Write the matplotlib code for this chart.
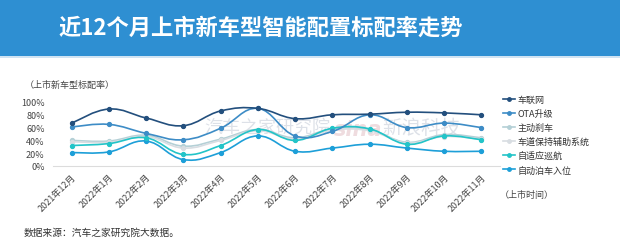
import numpy as np
import matplotlib
matplotlib.use('Agg')
import matplotlib.pyplot as plt
from matplotlib.path import Path
from matplotlib.patches import PathPatch, Rectangle
from matplotlib.lines import Line2D
from matplotlib.ticker import FuncFormatter

plt.rcParams['font.family'] = ['Noto Sans CJK SC', 'DejaVu Sans']

# 上市时间
months = ['2021年12月', '2022年1月', '2022年2月', '2022年3月', '2022年4月', '2022年5月',
          '2022年6月', '2022年7月', '2022年8月', '2022年9月', '2022年10月', '2022年11月']

# 各智能配置标配率(%)
che_lian_wang = [67, 89, 75, 63, 86, 90, 74, 80, 81, 84, 83, 80]
ota = [61, 65, 51, 41, 59, 90, 47, 54, 80, 60, 67, 60]
zhu_dong_sha_che = [40, 39, 48, 31, 42, 57, 44, 58, 57, 37, 49, 44]
che_dao_bao_chi = [38, 37, 46, 28, 40, 55, 42, 56, 55, 36, 46, 42]
zi_shi_ying_xun_hang = [32, 35, 44, 18, 32, 57, 40, 59, 58, 34, 47, 41]
zi_dong_bo_che = [21, 22, 39, 10, 21, 47, 23, 28, 34, 28, 23, 23]

series = [
    ('车联网', che_lian_wang, '#234f7d'),
    ('OTA升级', ota, '#3d8cc6'),
    ('主动刹车', zhu_dong_sha_che, '#b4d0d6'),
    ('车道保持辅助系统', che_dao_bao_chi, '#d8dde2'),
    ('自适应巡航', zi_shi_ying_xun_hang, '#22c4c8'),
    ('自动泊车入位', zi_dong_bo_che, '#1d9fd8'),
]


def smooth_path(xs, ys, t=0.2):
    # 用三次贝塞尔把折线画成平滑曲线
    pts = np.column_stack([xs, ys]).astype(float)
    n = len(pts)
    verts = [pts[0]]
    codes = [Path.MOVETO]
    for i in range(n - 1):
        p0 = pts[max(i - 1, 0)]
        p1 = pts[i]
        p2 = pts[i + 1]
        p3 = pts[min(i + 2, n - 1)]
        c1 = p1 + (p2 - p0) * t
        c2 = p2 - (p3 - p1) * t
        verts += [c1, c2, p2]
        codes += [Path.CURVE4] * 3
    return Path(verts, codes)


fig = plt.figure(figsize=(6.2, 2.53), dpi=100)

# 顶部标题栏
fig.patches.append(Rectangle((0, 1 - 57 / 253), 1, 57 / 253, transform=fig.transFigure,
                             facecolor='#2e8fd2', edgecolor='none', zorder=0))
fig.patches.append(Rectangle((0, 1 - 59 / 253), 1, 2 / 253, transform=fig.transFigure,
                             facecolor='#cfe3f3', edgecolor='none', zorder=0))
fig.text(261 / 620, 1 - 28 / 253, '近12个月上市新车型智能配置标配率走势', color='white',
         fontsize=16, fontweight='bold', ha='center', va='center')

ax = fig.add_axes([53 / 620, 86 / 253, 447 / 620, 64 / 253])
x = np.arange(len(months))

# 水印
ax.text(3.55, 62, '汽车之家研究院', fontsize=13, color='#dde1e8', ha='left', va='center',
        zorder=1)
ax.text(7.05, 58, 'sina', fontsize=15, color='#efdcdf', fontweight='bold', style='italic',
        ha='left', va='center', zorder=1, family=['DejaVu Sans'])
ax.text(8.35, 60, '新浪科技', fontsize=14, color='#dde1e8', ha='left', va='center',
        zorder=1)

handles = []
for i, (name, vals, color) in enumerate(series):
    zo = 3 + (len(series) - i) * 0.1
    if name in ('主动刹车', '车道保持辅助系统'):
        zo = 2.5
    ax.add_patch(PathPatch(smooth_path(x, vals), facecolor='none', edgecolor=color,
                           linewidth=1.2, zorder=zo))
    ax.plot(x, vals, linestyle='none', marker='o', markersize=2.8, color=color, zorder=zo + 0.05)
    handles.append(Line2D([], [], color=color, linewidth=1.2, marker='o', markersize=2.5,
                          label=name))

ax.set_xlim(-0.5, len(months) - 0.5)
ax.set_ylim(0, 100)
ax.set_yticks([0, 20, 40, 60, 80, 100])
ax.yaxis.set_major_formatter(FuncFormatter(lambda v, p: f'{v:.0f}%'))
ax.set_xticks(x)
ax.set_xticklabels(months, rotation=45, ha='right', rotation_mode='anchor')
ax.tick_params(axis='both', length=0, labelsize=6.5, colors='#444444')
ax.tick_params(axis='x', pad=4)
ax.tick_params(axis='y', pad=6)
for side in ('top', 'right', 'left'):
    ax.spines[side].set_visible(False)
ax.spines['bottom'].set_color('#dcdcdc')
ax.spines['bottom'].set_linewidth(0.8)
ax.patch.set_alpha(0)

fig.text(25 / 620, 1 - 85 / 253, '（上市新车型标配率）', fontsize=6.5, color='#444444',
         ha='left', va='center')
fig.text(500 / 620, 1 - 195 / 253, '（上市时间）', fontsize=6.5, color='#444444',
         ha='left', va='center')
fig.text(24 / 620, 1 - 233 / 253, '数据来源：汽车之家研究院大数据。', fontsize=7,
         color='#333333', ha='left', va='center')

fig.legend(handles=handles, loc='upper left', bbox_to_anchor=(503 / 620, 1 - 96 / 253),
           frameon=False, fontsize=6.5, labelspacing=0.55, handlelength=1.3,
           handletextpad=0.3, borderaxespad=0, borderpad=0, labelcolor='#333333')

fig.savefig('out.png', dpi=100)
